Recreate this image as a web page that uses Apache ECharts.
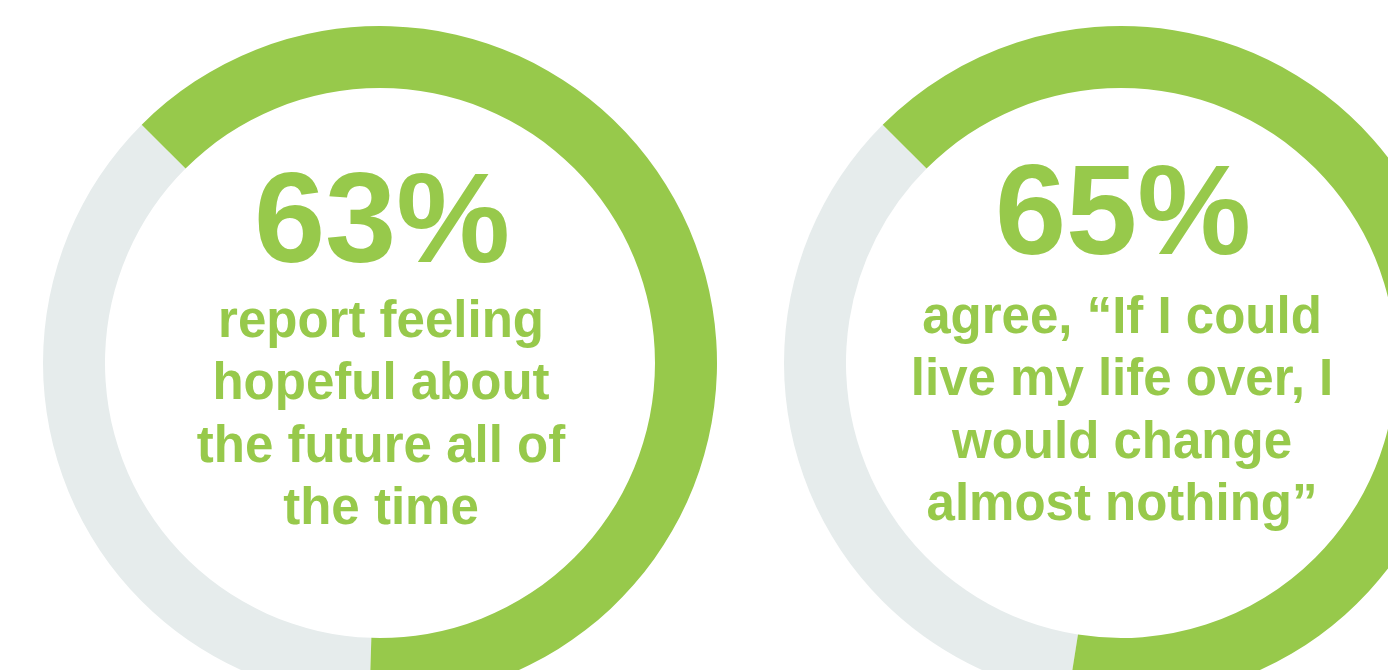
<!DOCTYPE html>
<html>
<head>
<meta charset="utf-8">
<style>
  html, body { margin: 0; padding: 0; background: #ffffff; }
  #chart { width: 1388px; height: 670px; }
</style>
<script src="https://cdn.jsdelivr.net/npm/echarts@6/dist/echarts.min.js"></script>
</head>
<body>
<div id="chart"></div>
<script>
// Share of respondents for each statement (percent)
const shares = [63, 65];

// Caption lines under each percentage
const captions = [
  ['report feeling', 'hopeful about', 'the future all of', 'the time'],
  ['agree, \u201CIf I could', 'live my life over, I', 'would change', 'almost nothing\u201D']
];

// Ring geometry and text placement per donut
const centers = [[380, 363], [1121, 363]];
const bigTextY = [227, 219];
const captionTopY = [323, 319];
const captionStep = 62.3;

const GREEN = '#97c94b';
const GREY = '#e6ecec';
const FONT = '"Liberation Sans", Arial, Helvetica, sans-serif';

const chart = echarts.init(document.getElementById('chart'), null, { renderer: 'canvas' });

const series = shares.map((v, i) => ({
  type: 'pie',
  radius: [275, 337],
  center: centers[i],
  startAngle: 135,
  clockwise: false,
  silent: true,
  animation: false,
  label: { show: false },
  labelLine: { show: false },
  emphasis: { disabled: true },
  itemStyle: { borderWidth: 0 },
  data: [
    { value: 100 - v, name: 'rest', itemStyle: { color: GREY } },
    { value: v, name: 'share', itemStyle: { color: GREEN } }
  ]
}));

const graphic = [];
shares.forEach((v, i) => {
  graphic.push({
    type: 'text',
    x: centers[i][0] + 2,
    y: bigTextY[i],
    silent: true,
    style: {
      text: v + '%',
      fill: GREEN,
      font: 'bold 128px ' + FONT,
      align: 'center',
      verticalAlign: 'middle'
    }
  });
  captions[i].forEach((line, k) => {
    graphic.push({
      type: 'text',
      x: centers[i][0] + 1,
      y: captionTopY[i] + k * captionStep,
      silent: true,
      style: {
        text: line,
        fill: GREEN,
        font: 'bold 51px ' + FONT,
        align: 'center',
        verticalAlign: 'middle'
      }
    });
  });
});

chart.setOption({
  backgroundColor: '#ffffff',
  animation: false,
  tooltip: { show: false },
  series: series,
  graphic: graphic
});
</script>
</body>
</html>
